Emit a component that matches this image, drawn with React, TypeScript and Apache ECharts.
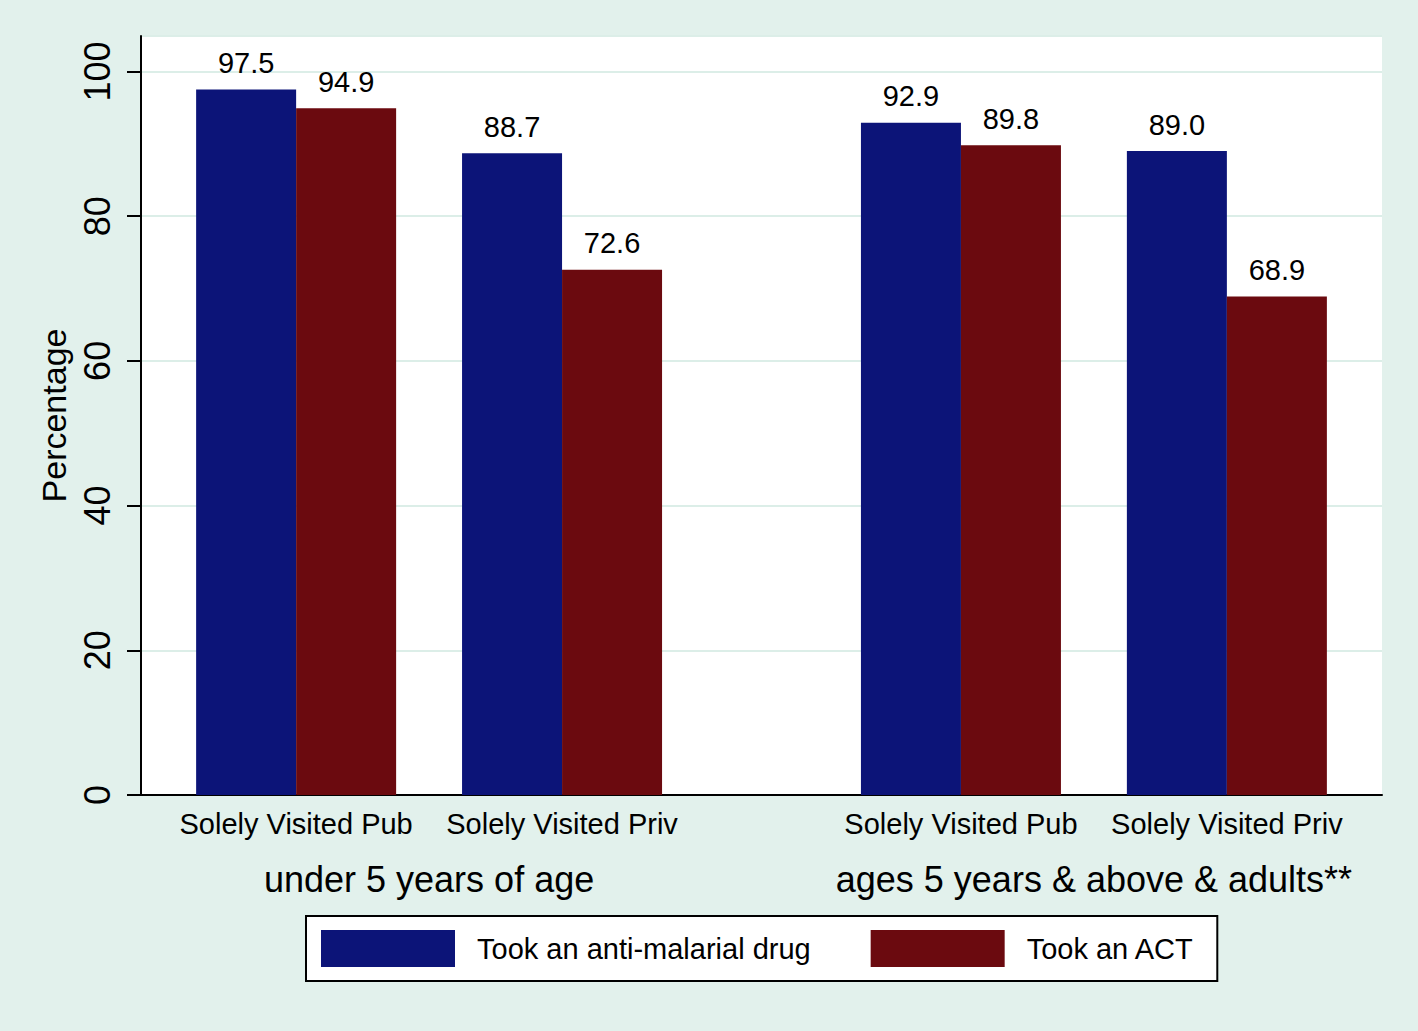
import React, { useEffect, useRef } from "react";
import * as echarts from "echarts";

const subgroupLabels = ["Solely Visited Pub", "Solely Visited Priv", "Solely Visited Pub", "Solely Visited Priv"];
const subgroupSlots = [0, 2, 5, 7];
const groupLabels = ["under 5 years of age", "ages 5 years & above & adults**"];
const seriesNames = ["Took an anti-malarial drug", "Took an ACT"];
const antiMalarial = [97.5, 88.7, 92.9, 89.0];
const tookACT = [94.9, 72.6, 89.8, 68.9];
const yTicks = [0, 20, 40, 60, 80, 100];

const FONT = "Liberation Sans";
const BLUE = "#0c1478";
const RED = "#6b0a0f";
const BG = "#e2f1ec";

export default function App() {
  const ref = useRef<HTMLDivElement>(null);
  useEffect(() => {
    document.body.style.margin = "0";
    if (!ref.current) return;
    const chart = echarts.init(ref.current, null, { renderer: "svg" });
    const groupSlots = [
      (subgroupSlots[0] + subgroupSlots[1]) / 2,
      (subgroupSlots[2] + subgroupSlots[3]) / 2,
    ];
    const xMin = -7 / 6;
    const xMax = subgroupSlots[subgroupSlots.length - 1] + 7 / 6;
    const mkLabel = {
      show: true,
      position: "top",
      distance: 12,
      fontSize: 29,
      fontFamily: FONT,
      color: "#000",
      formatter: (p: any) => Number(p.value[1]).toFixed(1),
    };
    chart.setOption({
      animation: false,
      backgroundColor: BG,
      textStyle: { fontFamily: FONT },
      grid: {
        left: 141,
        right: 36,
        top: 36,
        bottom: 236,
        show: true,
        backgroundColor: "#ffffff",
        borderWidth: 0,
      },
      legend: {
        left: 306,
        top: 916,
        orient: "horizontal",
        icon: "rect",
        itemWidth: 134,
        itemHeight: 37,
        itemGap: 60,
        padding: [14, 23, 14, 15],
        borderColor: "#000",
        borderWidth: 2,
        backgroundColor: "#fff",
        textStyle: { fontSize: 29, color: "#000", fontFamily: FONT, padding: [0, 0, 0, 17] },
        data: seriesNames,
      },
      xAxis: [
        {
          type: "value",
          min: xMin,
          max: xMax,
          position: "bottom",
          axisLine: { show: true, onZero: false, lineStyle: { color: "#000", width: 2 } },
          axisTick: { show: false },
          splitLine: { show: false },
          axisLabel: {
            customValues: subgroupSlots,
            fontSize: 29,
            fontFamily: FONT,
            color: "#000",
            margin: 14,
            formatter: (v: number) => {
              const i = subgroupSlots.indexOf(v);
              return i >= 0 ? subgroupLabels[i] : "";
            },
          },
        },
        {
          type: "value",
          min: xMin,
          max: xMax,
          position: "bottom",
          axisLine: { show: false, onZero: false },
          axisTick: { show: false },
          splitLine: { show: false },
          axisLabel: {
            customValues: groupSlots,
            fontSize: 36,
            fontFamily: FONT,
            color: "#000",
            margin: 66,
            formatter: (v: number) => {
              const i = groupSlots.indexOf(v);
              return i >= 0 ? groupLabels[i] : "";
            },
          },
        },
      ],
      yAxis: {
        type: "value",
        min: yTicks[0],
        max: 104.9,
        interval: 20,
        name: "Percentage",
        nameLocation: "middle",
        nameGap: 63,
        nameRotate: 90,
        nameTextStyle: { fontSize: 34, color: "#000", fontFamily: FONT },
        axisLine: { show: true, onZero: false, lineStyle: { color: "#000", width: 2 } },
        axisTick: { show: true, length: 14, lineStyle: { color: "#000", width: 2 } },
        axisLabel: {
          rotate: 90,
          fontSize: 36,
          fontFamily: FONT,
          color: "#000",
          margin: 26,
          showMaxLabel: false,
          formatter: (v: number) => (yTicks.indexOf(v) >= 0 ? String(v) : ""),
        },
        splitLine: { show: true, lineStyle: { color: "#dceee8", width: 2 } },
      },
      series: [
        {
          type: "bar",
          name: seriesNames[0],
          xAxisIndex: 0,
          data: subgroupSlots.map((x, i) => [x, antiMalarial[i]]),
          barWidth: 100,
          barGap: "0%",
          itemStyle: { color: BLUE },
          label: mkLabel,
        },
        {
          type: "bar",
          name: seriesNames[1],
          xAxisIndex: 0,
          data: subgroupSlots.map((x, i) => [x, tookACT[i]]),
          barWidth: 100,
          barGap: "0%",
          itemStyle: { color: RED },
          label: mkLabel,
        },
      ],
    });
    return () => chart.dispose();
  }, []);
  return <div ref={ref} style={{ width: 1418, height: 1031 }} />;
}
